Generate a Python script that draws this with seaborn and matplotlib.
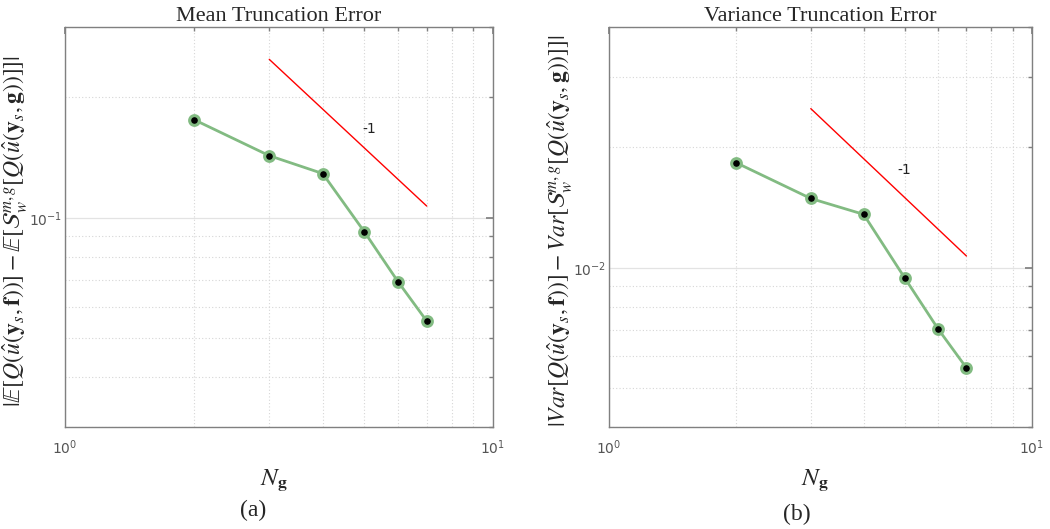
import numpy as np
import pandas as pd
import matplotlib
matplotlib.use("Agg")
import matplotlib.pyplot as plt
import matplotlib.ticker as mticker
import seaborn as sns

# Data
n_g = [2, 3, 4, 5, 6, 7]
mean_err = [0.176, 0.143, 0.129, 0.0924, 0.0692, 0.0552]
var_err = [0.0183, 0.0149, 0.0136, 0.00944, 0.00703, 0.00562]

# slope -1 reference lines
ref_x = [3, 7]
mean_ref = [0.249, 0.107]
var_ref = [0.025, 0.0107]

titles = ["Mean Truncation Error", "Variance Truncation Error"]
ylabels = [
    r"$|\mathbb{E}[Q(\hat{u}(\mathbf{y}_s,\mathbf{f}))] - \mathbb{E}[\mathcal{S}_w^{m,g}[Q(\hat{u}(\mathbf{y}_s,\mathbf{g}))]]|$",
    r"$|Var[Q(\hat{u}(\mathbf{y}_s,\mathbf{f}))] - Var[\mathcal{S}_w^{m,g}[Q(\hat{u}(\mathbf{y}_s,\mathbf{g}))]]|$",
]
panel_tags = ["(a)", "(b)"]

sns.set_theme(style="white")
plt.rcParams["font.family"] = ["DejaVu Sans"]
plt.rcParams["mathtext.fontset"] = "stix"

green = "#82bb82"
gray = "#555555"

fig = plt.figure(figsize=(10.5, 5.29), dpi=100)
ax_rects = [[0.062, 0.193, 0.4075, 0.756], [0.580, 0.193, 0.4028, 0.756]]
ylims = [(0.03, 0.3), (0.004, 0.04)]
series = [mean_err, var_err]
refs = [mean_ref, var_ref]
slope_pos = [(5.15, 0.167), (5.0, 0.0176)]
tag_pos = [(0.241, 0.036), (0.759, 0.027)]
ylabel_x = [-0.083, -0.080]

for i in range(2):
    ax = fig.add_axes(ax_rects[i])
    df = pd.DataFrame({"N": n_g, "err": series[i]})
    rdf = pd.DataFrame({"N": ref_x, "err": refs[i]})

    sns.lineplot(data=rdf, x="N", y="err", ax=ax, color="red", linewidth=1.0)
    sns.lineplot(data=df, x="N", y="err", ax=ax, color=green, linewidth=2.0,
                 marker="o", markersize=7, markerfacecolor="black",
                 markeredgecolor=green, markeredgewidth=2.2)

    ax.set_xscale("log")
    ax.set_yscale("log")
    ax.set_xlim(1, 10)
    ax.set_ylim(*ylims[i])

    ax.yaxis.set_minor_formatter(mticker.NullFormatter())
    ax.xaxis.set_minor_formatter(mticker.NullFormatter())
    ax.xaxis.set_minor_locator(mticker.LogLocator(subs=np.arange(2, 10)))
    ax.yaxis.set_minor_locator(mticker.LogLocator(subs=np.arange(2, 10)))

    ax.grid(True, which="major", color="#e3e3e3", linewidth=0.9, linestyle="-")
    ax.grid(True, which="minor", color="#d6d6d6", linewidth=0.8, linestyle=(0, (1, 2)))

    for s in ax.spines.values():
        s.set_color("#808080")
        s.set_linewidth(1.0)
    ax.tick_params(which="both", direction="in", top=True, right=True,
                   colors="#808080", labelcolor=gray, labelsize=10)
    ax.tick_params(which="major", length=5, pad=2)
    ax.tick_params(axis="x", which="major", pad=8)
    ax.tick_params(which="minor", length=3)

    ax.text(*slope_pos[i], "-1", fontsize=10, color="#222222", ha="center", va="center")

    ax.set_title(titles[i], family="Liberation Serif", fontsize=16, pad=4)
    ax.set_xlabel(r"$N_{\mathbf{g}}$", fontsize=18)
    ax.xaxis.set_label_coords(0.487, -0.10)
    ax.set_ylabel(ylabels[i], fontsize=17)
    ax.yaxis.set_label_coords(ylabel_x[i], 0.49)

    fig.text(*tag_pos[i], panel_tags[i], family="Liberation Serif", fontsize=17,
             ha="center", va="center")

fig.savefig("out.png", dpi=100)
plt.close(fig)
